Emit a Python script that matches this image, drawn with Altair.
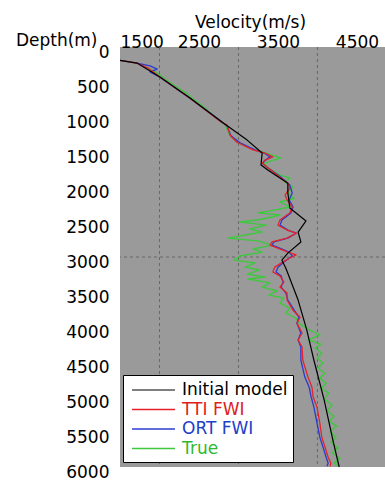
import altair as alt
import pandas as pd

SERIES = ["Initial model", "TTI FWI", "ORT FWI", "True"]
COLORS = ["#000000", "#e8202a", "#2b3cd0", "#3ec83e"]
WIDTHS = [1.2, 1.4, 1.2, 2.2]
X_TICKS = [1500, 2500, 3500, 4500]
Y_TICKS = [0, 500, 1000, 1500, 2000, 2500, 3000, 3500, 4000, 4500, 5000, 5500, 6000]
GRID_V = [2000, 3000, 4000]
GRID_H = [3000]

INIT_DEPTH = [190, 230, 430, 730, 1070, 1330, 1515, 1685, 1760, 1945, 2085, 2300,
              2485, 2645, 2785, 2945, 3045, 3160, 3615, 4045, 4475, 5045, 5615, 6000]
INIT_VEL = [1500, 1715, 2005, 2385, 2790, 3110, 3300, 3285, 3375, 3625, 3625, 3650,
            3855, 3755, 3790, 3625, 3550, 3600, 3755, 3865, 3955, 4085, 4195, 4275]

TTI_DEPTH = [190, 230, 300, 430, 730, 1070, 1115, 1260, 1360, 1470, 1515, 1570, 1615,
             1660, 1715, 1860, 1945, 2015, 2115, 2185, 2285, 2370, 2470, 2545, 2615,
             2660, 2730, 2785, 2830, 2870, 2930, 2970, 3015, 3070, 3145, 3215, 3270,
             3360, 3430, 3515, 3615, 3760, 3860, 3945, 4085, 4185, 4285, 4475, 4715,
             4860, 5000, 5145, 5375, 5575, 5715, 5860, 5945, 5990]
TTI_VEL = [1500, 1715, 1855, 2005, 2385, 2780, 2855, 2895, 2980, 3185, 3335, 3435, 3335,
           3300, 3360, 3525, 3625, 3650, 3590, 3615, 3680, 3650, 3525, 3500, 3615,
           3730, 3615, 3425, 3400, 3490, 3625, 3730, 3650, 3565, 3460, 3435, 3525,
           3575, 3525, 3615, 3615, 3690, 3780, 3740, 3805, 3755, 3805, 3815, 3880,
           3930, 3945, 3995, 4030, 4055, 4095, 4135, 4170, 4160]

ORT_DEPTH = [190, 230, 270, 315, 355, 430, 730, 1070, 1130, 1270, 1370, 1470, 1515,
             1570, 1630, 1670, 1730, 1870, 1970, 2085, 2185, 2285, 2370, 2470, 2545,
             2615, 2660, 2730, 2785, 2830, 2870, 2930, 2985, 3070, 3145, 3215, 3270,
             3360, 3430, 3515, 3615, 3760, 3860, 3945, 4085, 4185, 4285, 4475, 4715,
             4860, 5000, 5145, 5375, 5575, 5715, 5860, 5945, 5990]
ORT_VEL = [1500, 1715, 1880, 1970, 1880, 2005, 2385, 2790, 2855, 2905, 3020, 3210, 3325,
           3400, 3325, 3310, 3375, 3550, 3650, 3680, 3640, 3690, 3665, 3550, 3525,
           3625, 3730, 3625, 3450, 3425, 3515, 3640, 3680, 3575, 3500, 3475, 3540,
           3565, 3540, 3600, 3625, 3705, 3765, 3740, 3790, 3755, 3790, 3790, 3840,
           3895, 3920, 3955, 3995, 4030, 4070, 4110, 4135, 4120]

TRUE_DEPTH = [190, 230, 285, 330, 400, 470, 530, 600, 655, 730, 815, 885, 970, 1045,
              1115, 1200, 1270, 1345, 1445, 1500, 1545, 1585, 1630, 1670, 1745, 1830,
              1870, 1930, 2000, 2085, 2160, 2215, 2285, 2330, 2370, 2400, 2460, 2500,
              2545, 2600, 2645, 2685, 2730, 2770, 2830, 2885, 2930, 2985, 3045, 3085,
              3145, 3185, 3245, 3285, 3315, 3370, 3430, 3485, 3545, 3585, 3660, 3730,
              3800, 3875, 3960, 4045, 4115, 4185, 4245, 4300, 4375, 4445, 4515, 4585,
              4660, 4730, 4800, 4875, 4945, 5030, 5115, 5200, 5275, 5345, 5415, 5485,
              5575, 5645, 5730, 5800, 5875, 5945, 5990]
TRUE_VEL = [1500, 1715, 1815, 1905, 2005, 2080, 2160, 2260, 2335, 2410, 2515, 2590, 2675,
            2755, 2830, 2865, 2895, 2970, 3145, 3300, 3425, 3540, 3400, 3325, 3400, 3525,
            3650, 3590, 3690, 3625, 3705, 3525, 3650, 3450, 3245, 3525, 3300, 3020,
            3350, 3145, 3300, 3085, 2865, 3245, 3425, 3185, 3300, 3020, 2945, 3210,
            3085, 3270, 3110, 3335, 3120, 3400, 3300, 3490, 3385, 3575, 3525, 3650,
            3600, 3730, 3780, 3905, 4030, 3880, 4045, 3970, 4055, 3995, 4070, 4005,
            4095, 4030, 4110, 4045, 4145, 4085, 4185, 4120, 4210, 4145, 4245, 4160,
            4235, 4170, 4260, 4185, 4285, 4210, 4275]

frames = []
for name, d, v in [("True", TRUE_DEPTH, TRUE_VEL), ("ORT FWI", ORT_DEPTH, ORT_VEL),
                   ("TTI FWI", TTI_DEPTH, TTI_VEL), ("Initial model", INIT_DEPTH, INIT_VEL)]:
    frames.append(pd.DataFrame({"series": name, "depth": d, "vel": v}))
df = pd.concat(frames, ignore_index=True)

FONT = "DejaVu Sans"
x_scale = alt.Scale(domain=[1500, 4855], nice=False, zero=False)
y_scale = alt.Scale(domain=[0, 6000], reverse=True, nice=False, zero=False)
x_axis = alt.Axis(orient="top", values=X_TICKS, format="d", title="Velocity(m/s)", grid=False,
                  ticks=False, domain=False, labelFlush=True, labelFont=FONT, labelFontSize=17,
                  labelColor="black", labelPadding=0, labelBaseline="alphabetic",
                  titleFont=FONT, titleFontSize=17, titleFontWeight="normal", titleColor="black",
                  titleX=130, titleY=-20, titleAlign="center", titleBaseline="alphabetic")
y_axis = alt.Axis(values=Y_TICKS, format="d", title="Depth(m)", grid=False, ticks=False,
                  domain=False, labelFont=FONT, labelFontSize=17, labelColor="black",
                  labelPadding=11, labelOffset=5, titleFont=FONT, titleFontSize=17,
                  titleFontWeight="normal", titleColor="black", titleAngle=0, titleX=-23,
                  titleY=-2, titleAlign="right", titleBaseline="alphabetic")

label_color_expr = ("datum.value == 'TTI FWI' ? '#e02020' : datum.value == 'ORT FWI' ? '#2040c8' : "
                    "datum.value == 'True' ? '#30b830' : '#000000'")

vgrid = alt.Chart(pd.DataFrame({"vel": GRID_V})).mark_rule(
    strokeDash=[3, 3], color="#5c5c5c", strokeWidth=0.8
).encode(x=alt.X("vel:Q", scale=x_scale, axis=x_axis))

hgrid = alt.Chart(pd.DataFrame({"depth": GRID_H})).mark_rule(
    strokeDash=[3, 3], color="#5c5c5c", strokeWidth=0.8
).encode(y=alt.Y("depth:Q", scale=y_scale, axis=y_axis))

lines = alt.Chart(df).mark_line(clip=True, strokeJoin="round").encode(
    x=alt.X("vel:Q", scale=x_scale, axis=x_axis),
    y=alt.Y("depth:Q", scale=y_scale, axis=y_axis),
    color=alt.Color("series:N", scale=alt.Scale(domain=SERIES, range=COLORS),
                    legend=alt.Legend(orient="none", legendX=3, legendY=328, title=None,
                                      symbolType="M-2.39,0H2.39", symbolSize=324,
                                      symbolStrokeWidth=1.5, symbolOffset=15.5,
                                      labelOffset=18.5, labelFont=FONT, labelFontSize=17,
                                      labelExpr="datum.label + '\u00a0\u00a0\u00a0'",
                                      labelColor={"expr": label_color_expr},
                                      padding=5, rowPadding=1.5, fillColor="white",
                                      strokeColor="black", cornerRadius=0)),
    strokeWidth=alt.StrokeWidth("series:N", scale=alt.Scale(domain=SERIES, range=WIDTHS),
                                legend=None),
    order=alt.Order("depth:Q"),
)

chart = alt.layer(vgrid, hgrid, lines).properties(
    width=265, height=420,
    autosize=alt.AutoSizeParams(type="none"),
    padding={"left": 120, "top": 47, "right": 0, "bottom": 14},
    background="white",
).configure_view(fill="#9a9a9a", stroke=None)

chart.save("out.html", embed_options={"renderer": "svg", "actions": False})
